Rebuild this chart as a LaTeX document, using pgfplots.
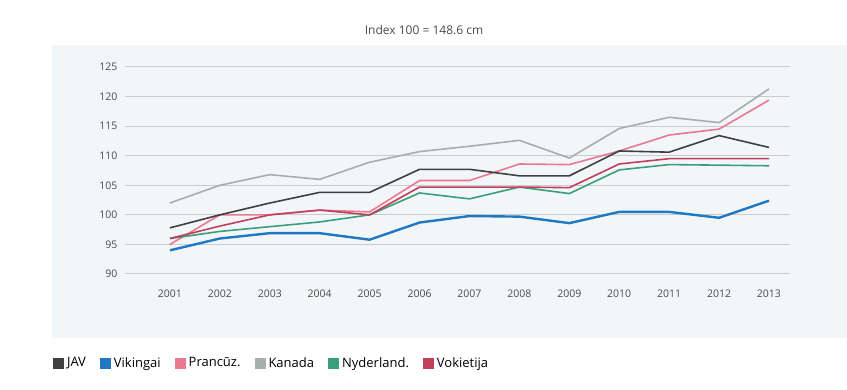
\documentclass[border=0pt]{standalone}
\usepackage{pgfplots}
\pgfplotsset{compat=1.18}
\usepackage{fontspec}
\setmainfont{Open Sans}
\definecolor{cJAV}{HTML}{404040}
\definecolor{cVik}{HTML}{1F78C1}
\definecolor{cPra}{HTML}{E8798F}
\definecolor{cKan}{HTML}{A8AEAB}
\definecolor{cNyd}{HTML}{3A9E7A}
\definecolor{cVok}{HTML}{C0405A}
\definecolor{bgc}{HTML}{F3F6F8}
\definecolor{gridc}{HTML}{C8CCCE}
\definecolor{tickc}{HTML}{4A4A4A}
\begin{document}
\begin{tikzpicture}[x=1pt,y=1pt]
\path[use as bounding box] (0,0) rectangle (847,390);
\fill[bgc] (52,52) rectangle (847,345);
\node[font=\fontsize{12}{14}\selectfont, text=tickc] at (424,360) {Index 100 = 148.6 cm};
\begin{axis}[
  at={(125pt,116pt)}, anchor=south west,
  scale only axis, width=665pt, height=207pt,
  xmin=2000.1, xmax=2013.42, ymin=90, ymax=125,
  xtick={2001,...,2013}, ytick={90,95,...,125},
  /pgf/number format/1000 sep={},
  /pgf/number format/assume math mode=true,
  axis line style={draw=none}, major tick length=0pt,
  xmajorgrids=false, ymajorgrids=true, grid style={draw=gridc, line width=1pt},
  tick label style={font=\fontsize{10.5}{12}\selectfont, text=tickc},
  yticklabel style={xshift=-4pt},
  xticklabel style={yshift=-12pt},
  every axis plot/.append style={line join=round},
]
\addplot[cKan, line width=1.6pt] coordinates {(2001,102) (2002,105) (2003,106.8) (2004,106) (2005,108.9) (2006,110.7) (2007,111.6) (2008,112.6) (2009,109.6) (2010,114.6) (2011,116.5) (2012,115.6) (2013,121.3)};
\addplot[cPra, line width=1.6pt] coordinates {(2001,95) (2002,100) (2003,100) (2004,100.8) (2005,100.5) (2006,105.8) (2007,105.8) (2008,108.6) (2009,108.5) (2010,110.8) (2011,113.5) (2012,114.5) (2013,119.4)};
\addplot[cNyd, line width=1.6pt] coordinates {(2001,96) (2002,97.2) (2003,98) (2004,98.8) (2005,100) (2006,103.7) (2007,102.7) (2008,104.7) (2009,103.6) (2010,107.6) (2011,108.5) (2012,108.4) (2013,108.3)};
\addplot[cVok, line width=1.6pt] coordinates {(2001,96) (2002,98.1) (2003,100) (2004,100.8) (2005,100) (2006,104.7) (2007,104.7) (2008,104.7) (2009,104.6) (2010,108.6) (2011,109.5) (2012,109.5) (2013,109.5)};
\addplot[cJAV, line width=1.6pt] coordinates {(2001,97.8) (2002,100) (2003,102) (2004,103.8) (2005,103.8) (2006,107.7) (2007,107.7) (2008,106.6) (2009,106.6) (2010,110.8) (2011,110.6) (2012,113.4) (2013,111.4)};
\addplot[cVik, line width=2.4pt] coordinates {(2001,94) (2002,96) (2003,96.9) (2004,96.9) (2005,95.8) (2006,98.7) (2007,99.8) (2008,99.7) (2009,98.6) (2010,100.5) (2011,100.5) (2012,99.5) (2013,102.4)};
\end{axis}
\begin{axis}[
  at={(125pt,116pt)}, anchor=south west,
  scale only axis, width=665pt, height=207pt,
  xmin=0, xmax=1, ymin=0, ymax=1, hide axis,
  legend style={draw=none, fill=none, at={(-0.113,-0.43)}, anchor=west,
    font=\fontsize{13}{15}\selectfont, legend columns=6,
    /tikz/every even column/.append style={column sep=12pt},
    /tikz/every odd column/.append style={column sep=1pt}},
  legend image code/.code={\fill[#1, draw=none] (0pt,-5.5pt) rectangle (11pt,5.5pt);},
]
\addlegendimage{cJAV}\addlegendentry{JAV}
\addlegendimage{cVik}\addlegendentry{Vikingai}
\addlegendimage{cPra}\addlegendentry{Prancūz.}
\addlegendimage{cKan}\addlegendentry{Kanada}
\addlegendimage{cNyd}\addlegendentry{Nyderland.}
\addlegendimage{cVok}\addlegendentry{Vokietija}
\end{axis}
\end{tikzpicture}
\end{document}
